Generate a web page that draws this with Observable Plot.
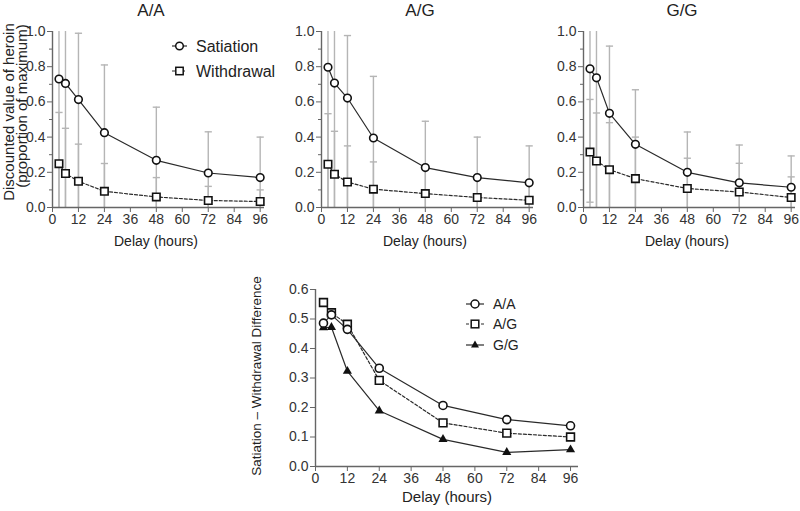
<!DOCTYPE html>
<html><head><meta charset="utf-8">
<script src="https://cdn.jsdelivr.net/npm/d3@7"></script>
<script src="https://cdn.jsdelivr.net/npm/@observablehq/plot@0.6"></script>
<style>
body{margin:0;background:#fff;}
#fig{position:relative;width:800px;height:511px;font-family:"Liberation Sans",Arial,sans-serif;color:#222;overflow:hidden;}
.lbl{position:absolute;transform:translate(-50%,-50%);white-space:nowrap;line-height:1;}
.vlbl{position:absolute;transform:translate(-50%,-50%) rotate(-90deg);white-space:nowrap;text-align:center;line-height:1;}
</style></head><body><div id="fig"></div>
<script>
// ---------- data ----------
const delays = [3, 6, 12, 24, 48, 72, 96];
const panelTitles = ["A/A", "A/G", "G/G"];
const seriesNames = ["Satiation", "Withdrawal"];
const xTicks = [0, 12, 24, 36, 48, 60, 72, 84, 96];
const yTicksTop = [0, 0.2, 0.4, 0.6, 0.8, 1.0];
const yMinorTop = [0.1, 0.3, 0.5, 0.7, 0.9];
const yTicksBottom = [0, 0.1, 0.2, 0.3, 0.4, 0.5, 0.6];

// A/A
const satAA   = [0.730, 0.705, 0.613, 0.425, 0.268, 0.196, 0.170];
const satAAHi = [1.20, 1.20, 0.99, 0.81, 0.57, 0.43, 0.40];
const satAALo = [0, 0, 0, 0, 0, 0, 0];
const wdAA    = [0.249, 0.193, 0.149, 0.092, 0.060, 0.040, 0.034];
const wdAAHi  = [0.54, 0.45, 0.36, 0.25, 0.17, 0.12, 0.10];
const wdAALo  = [0, 0, 0, 0, 0, 0, 0];
// A/G
const satAG   = [0.797, 0.707, 0.622, 0.395, 0.227, 0.170, 0.140];
const satAGHi = [1.20, 1.20, 0.977, 0.745, 0.49, 0.40, 0.35];
const satAGLo = [0, 0, 0, 0, 0, 0, 0];
const wdAG    = [0.246, 0.189, 0.145, 0.104, 0.079, 0.057, 0.041];
const wdAGHi  = [0.533, 0.433, 0.35, 0.259, 0.22, 0.17, 0.14];
const wdAGLo  = [0, 0, 0, 0, 0, 0, 0];
// G/G
const satGG   = [0.788, 0.737, 0.535, 0.359, 0.200, 0.140, 0.115];
const satGGHi = [1.20, 1.20, 0.917, 0.669, 0.429, 0.355, 0.293];
const satGGLo = [0.03, 0, 0, 0, 0, 0, 0];
const wdGG    = [0.315, 0.264, 0.215, 0.164, 0.108, 0.088, 0.057];
const wdGGHi  = [0.614, 0.537, 0.482, 0.40, 0.28, 0.251, 0.174];
const wdGGLo  = [0, 0, 0, 0, 0, 0, 0];

// Satiation - Withdrawal difference
const diffAA = [0.486, 0.514, 0.465, 0.333, 0.207, 0.159, 0.138];
const diffAG = [0.556, 0.521, 0.482, 0.292, 0.148, 0.113, 0.100];
const diffGG = [0.471, 0.472, 0.323, 0.189, 0.092, 0.048, 0.057];

// ---------- helpers ----------
const fig = document.getElementById("fig");
const AXIS = "#666";
const INK = "#2a2a2a";
const ERR = "#b5b5b5";
const narrow = "'Liberation Sans Narrow','Liberation Sans',Arial,sans-serif";
const capSymbol = {draw(ctx, size) { const w = Math.sqrt(size / Math.PI); ctx.moveTo(-w, 0); ctx.lineTo(w, 0); }};

function place(el, left, top) {
  el.style.position = "absolute"; el.style.left = left + "px"; el.style.top = top + "px";
  fig.appendChild(el);
}
function label(text, cx, cy, size, cls = "lbl", family = null) {
  const d = document.createElement("div");
  d.className = cls; d.textContent = text;
  d.style.left = cx + "px"; d.style.top = cy + "px"; d.style.fontSize = size + "px";
  if (family) d.style.fontFamily = family;
  fig.appendChild(d);
}

function rowsFor(name, mean, hi, lo) {
  return delays.map((d, i) => ({delay: d, series: name, mean: mean[i], hi: hi[i], lo: lo[i]}));
}

function topPanel(sat, satHi, satLo, wd, wdHi, wdLo) {
  const s = rowsFor(seriesNames[0], sat, satHi, satLo);
  const w = rowsFor(seriesNames[1], wd, wdHi, wdLo);
  const all = s.concat(w);
  return Plot.plot({
    width: 268, height: 240, marginLeft: 52, marginRight: 4, marginTop: 31, marginBottom: 33,
    x: {domain: [0, 98]},
    y: {domain: [0, 1]},
    style: {fontFamily: narrow, fontSize: "14px", color: "#333", background: "transparent", overflow: "visible"},
    marks: [
      Plot.ruleX(all, {x: "delay", y1: d => Math.max(0, d.lo), y2: d => Math.min(1, d.hi), stroke: ERR, strokeWidth: 1.4}),
      Plot.dot(all.filter(d => d.hi <= 1), {x: "delay", y: "hi", symbol: capSymbol, r: 3.6, stroke: ERR, strokeWidth: 1.4, fill: "none"}),
      Plot.dot(all.filter(d => d.lo > 0), {x: "delay", y: "lo", symbol: capSymbol, r: 3.6, stroke: ERR, strokeWidth: 1.4, fill: "none"}),
      Plot.ruleY([0], {stroke: AXIS, strokeWidth: 1.4}),
      Plot.ruleX([0], {stroke: AXIS, strokeWidth: 1.4}),
      Plot.axisX({ticks: xTicks, tickSize: 5, tickPadding: 2, label: null, stroke: AXIS, fontSize: 14, fontFamily: narrow}),
      Plot.axisY({ticks: yTicksTop, tickFormat: d3.format(".1f"), tickSize: 5, tickPadding: 2, label: null, stroke: AXIS, fontSize: 14, fontFamily: narrow}),
      Plot.axisY({ticks: yMinorTop, tickSize: 3, text: null, label: null, stroke: AXIS}),
      Plot.line(s, {x: "delay", y: "mean", stroke: INK, strokeWidth: 1.2}),
      Plot.line(w, {x: "delay", y: "mean", stroke: INK, strokeWidth: 1.2, strokeDasharray: "3,2"}),
      Plot.dot(s, {x: "delay", y: "mean", symbol: "circle", r: 3.8, fill: "white", stroke: "#111", strokeWidth: 1.6}),
      Plot.dot(w, {x: "delay", y: "mean", symbol: "square", r: 4.2, fill: "white", stroke: "#111", strokeWidth: 1.6})
    ]
  });
}

// ---------- top panels ----------
const tops = [
  [satAA, satAAHi, satAALo, wdAA, wdAAHi, wdAALo],
  [satAG, satAGHi, satAGLo, wdAG, wdAGHi, wdAGLo],
  [satGG, satGGHi, satGGLo, wdGG, wdGGHi, wdGGLo]
];
const topLeft = [0, 269, 531];
tops.forEach((args, i) => {
  place(topPanel(...args), topLeft[i], 0);
  const x0 = topLeft[i] + 52, x96 = x0 + 208;
  label(panelTitles[i], (x0 + x96) / 2 - 5, 10, 17);
  label("Delay (hours)", (x0 + x96) / 2, 241, 14, "lbl", narrow);
});
label("Discounted value of heroin", 8, 112, 15, "vlbl");
label("(proportion of maximum)", 21, 106, 15, "vlbl");

// top legend (A/A panel)
const legTop = document.createElementNS("http://www.w3.org/2000/svg", "svg");
legTop.setAttribute("width", 120); legTop.setAttribute("height", 40);
legTop.innerHTML = `
  <g stroke="#111" fill="white" stroke-width="1.5">
    <line x1="2" x2="17" y1="8" y2="8" stroke="${INK}" stroke-width="1.2"/>
    <circle cx="9.5" cy="8" r="3.8"/>
    <line x1="2" x2="17" y1="33" y2="33" stroke="${INK}" stroke-width="1.2" stroke-dasharray="3,2"/>
    <rect x="5.8" y="29.3" width="7.4" height="7.4"/>
  </g>
  <g font-family="Liberation Sans Narrow, Liberation Sans, Arial, sans-serif" font-size="16" fill="#222">
    <text x="26" y="13.5">${seriesNames[0]}</text>
    <text x="26" y="38.5">${seriesNames[1]}</text>
  </g>`;
place(legTop, 170, 38);

// ---------- bottom panel ----------
const bAA = delays.map((d, i) => ({delay: d, g: panelTitles[0], v: diffAA[i]}));
const bAG = delays.map((d, i) => ({delay: d, g: panelTitles[1], v: diffAG[i]}));
const bGG = delays.map((d, i) => ({delay: d, g: panelTitles[2], v: diffGG[i]}));
const bottom = Plot.plot({
  width: 328, height: 216, marginLeft: 60, marginRight: 5, marginTop: 19, marginBottom: 20,
  x: {domain: [0, 99]},
  y: {domain: [0, 0.6]},
  style: {fontFamily: "'Liberation Sans',Arial,sans-serif", fontSize: "14px", color: "#333", background: "transparent", overflow: "visible"},
  marks: [
    Plot.ruleY([0], {stroke: AXIS, strokeWidth: 1.4}),
    Plot.ruleX([0], {stroke: AXIS, strokeWidth: 1.4}),
    Plot.axisX({ticks: xTicks, tickSize: 5, tickPadding: 2, label: null, stroke: AXIS, fontSize: 14}),
    Plot.axisY({ticks: yTicksBottom, tickFormat: d3.format(".1f"), tickSize: 5, tickPadding: 2, label: null, stroke: AXIS, fontSize: 14}),
    Plot.line(bAA, {x: "delay", y: "v", stroke: INK, strokeWidth: 1.2}),
    Plot.line(bAG, {x: "delay", y: "v", stroke: INK, strokeWidth: 1.2, strokeDasharray: "3,2"}),
    Plot.line(bGG, {x: "delay", y: "v", stroke: INK, strokeWidth: 1.2}),
    Plot.dot(bGG, {x: "delay", y: "v", symbol: "triangle", r: 3.4, fill: "#111", stroke: "none"}),
    Plot.dot(bAG, {x: "delay", y: "v", symbol: "square", r: 4.4, fill: "white", stroke: "#111", strokeWidth: 1.6}),
    Plot.dot(bAA, {x: "delay", y: "v", symbol: "circle", r: 4.0, fill: "white", stroke: "#111", strokeWidth: 1.6})
  ]
});
place(bottom, 255, 270);
label("Delay (hours)", 447, 496, 15);
label("Satiation – Withdrawal Difference", 257, 376, 13.5, "vlbl");

const legB = document.createElementNS("http://www.w3.org/2000/svg", "svg");
legB.setAttribute("width", 80); legB.setAttribute("height", 60);
legB.innerHTML = `
  <g stroke="#111" stroke-width="1.5">
    <line x1="2" x2="20" y1="8" y2="8" stroke="${INK}" stroke-width="1.2"/>
    <circle cx="11" cy="8" r="4" fill="white"/>
    <line x1="2" x2="20" y1="28" y2="28" stroke="${INK}" stroke-width="1.2" stroke-dasharray="3,2"/>
    <rect x="7.2" y="24.2" width="7.6" height="7.6" fill="white"/>
    <line x1="2" x2="20" y1="49" y2="49" stroke="${INK}" stroke-width="1.2"/>
    <path d="M11,44.5 L15,51.5 L7,51.5 Z" fill="#111" stroke="none"/>
  </g>
  <g font-family="Liberation Sans, Arial, sans-serif" font-size="14" fill="#222">
    <text x="29" y="13">${panelTitles[0]}</text>
    <text x="29" y="33">${panelTitles[1]}</text>
    <text x="29" y="54">${panelTitles[2]}</text>
  </g>`;
place(legB, 464, 296);
</script></body></html>
